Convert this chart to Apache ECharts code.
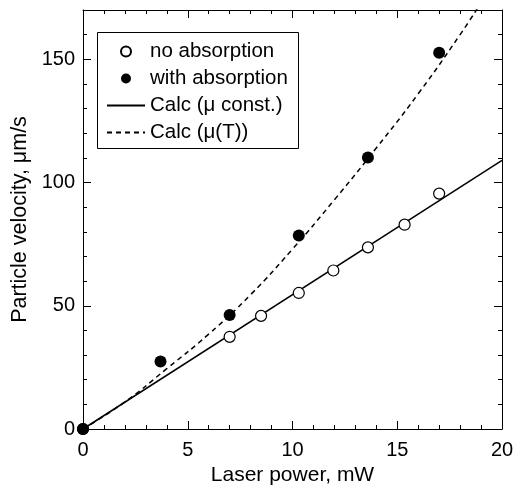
<!DOCTYPE html>
<html>
<head>
<meta charset="utf-8">
<script src="https://cdn.jsdelivr.net/npm/echarts@6/dist/echarts.min.js"></script>
<style>html,body{margin:0;padding:0;background:#fff;}#c{width:515px;height:491px;}</style>
</head>
<body>
<div id="c"></div>
<script>
// Data
var noAbsorption = [[0,0],[7.0,37.4],[8.5,45.9],[10.3,55.2],[11.95,64.3],[13.6,73.7],[15.35,82.9],[17.0,95.5]];
var withAbsorption = [[0,0],[3.7,27.4],[7.0,46.3],[10.3,78.5],[13.6,110.2],[17.0,152.7]];
var calcConst = [[0,0],[20,109]];
var calcT = [[0,0],[2,11],[4,24.5],[6,38.5],[8,54.5],[10,73],[12,93],[14,114],[16,136],[18,160],[19,173]];
var xTicks = {min:0, max:20, interval:5};
var yTicks = {min:0, max:170, interval:50, minorInterval:10};
var names = ['no absorption','with absorption','Calc (\u03bc const.)','Calc (\u03bc(T))'];

var FONT = '"Liberation Sans", Arial, sans-serif';
var black = '#000';
var chart = echarts.init(document.getElementById('c'), null, {renderer:'canvas'});

function xAx(pos, show){
  return {
    type:'value', position:pos, min:xTicks.min, max:xTicks.max, interval:xTicks.interval,
    axisLine:{show:true, onZero:false, lineStyle:{color:black, width:1}},
    axisTick:{show:true, inside:true, length:8, lineStyle:{color:black}},
    minorTick:{show:true, splitNumber:5, length:4, lineStyle:{color:black}},
    splitLine:{show:false}, minorSplitLine:{show:false},
    axisLabel:{show:show, color:black, fontSize:20, fontFamily:FONT, margin:11},
    name: show ? 'Laser power, mW' : '', nameLocation:'middle', nameGap:34,
    nameTextStyle:{color:black, fontSize:21, fontFamily:FONT}
  };
}
function yAx(pos, major, show){
  return {
    type:'value', position:pos, min:yTicks.min, max:yTicks.max,
    interval: major ? yTicks.interval : yTicks.minorInterval,
    axisLine:{show:major, onZero:false, lineStyle:{color:black, width:1}},
    axisTick:{show:true, inside:true, length: major ? 8 : 4, lineStyle:{color:black}},
    splitLine:{show:false},
    axisLabel:{show:show, color:black, fontSize:20, fontFamily:FONT, margin:8, showMaxLabel:false},
    name: show ? 'Particle velocity, \u03bcm/s' : '', nameLocation:'middle', nameGap:40,
    nameTextStyle:{color:black, fontSize:21.5, fontFamily:FONT}
  };
}

var hiddenSym = {color:'rgba(0,0,0,0)', borderColor:'rgba(0,0,0,0)', borderWidth:0, opacity:0};

chart.setOption({
  animation:false,
  backgroundColor:'#fff',
  textStyle:{fontFamily:FONT},
  grid:{left:83, right:13, top:10, bottom:62, containLabel:false, outerBoundsMode:'none'},
  xAxis:[xAx('bottom', true), xAx('top', false)],
  yAxis:[yAx('left', true, true), yAx('left', false, false), yAx('right', true, false), yAx('right', false, false)],
  graphic:[{type:'rect', left:97, top:32, shape:{x:0,y:0,width:201,height:116}, style:{fill:'#fff', stroke:black, lineWidth:1}, z:3}],
  legend:{
    orient:'vertical', left:106, top:41, padding:0, itemGap:6,
    itemWidth:38, itemHeight:10, z:10,
    textStyle:{color:black, fontSize:20.5, fontFamily:FONT, lineHeight:20},
    data:[
      {name:names[0]},
      {name:names[1]},
      {name:names[2], itemStyle:hiddenSym},
      {name:names[3], itemStyle:hiddenSym}
    ]
  },
  series:[
    {name:names[2], type:'line', data:calcConst, showSymbol:false, symbol:'none', xAxisIndex:0, yAxisIndex:0,
     lineStyle:{color:black, width:1.5}, itemStyle:{color:black}, z:2},
    {name:names[3], type:'line', data:calcT, showSymbol:false, symbol:'none', smooth:true, xAxisIndex:0, yAxisIndex:0,
     lineStyle:{color:black, width:1.5, type:[5,4]}, itemStyle:{color:black}, z:2},
    {name:names[0], type:'scatter', data:noAbsorption, symbol:'circle', symbolSize:11, xAxisIndex:0, yAxisIndex:0,
     itemStyle:{color:'#fff', borderColor:black, borderWidth:1.2, opacity:1}, z:4},
    {name:names[1], type:'scatter', data:withAbsorption, symbol:'circle', symbolSize:12, xAxisIndex:0, yAxisIndex:0,
     itemStyle:{color:black, borderColor:black, borderWidth:0, opacity:1}, z:5}
  ]
});
</script>
</body>
</html>
